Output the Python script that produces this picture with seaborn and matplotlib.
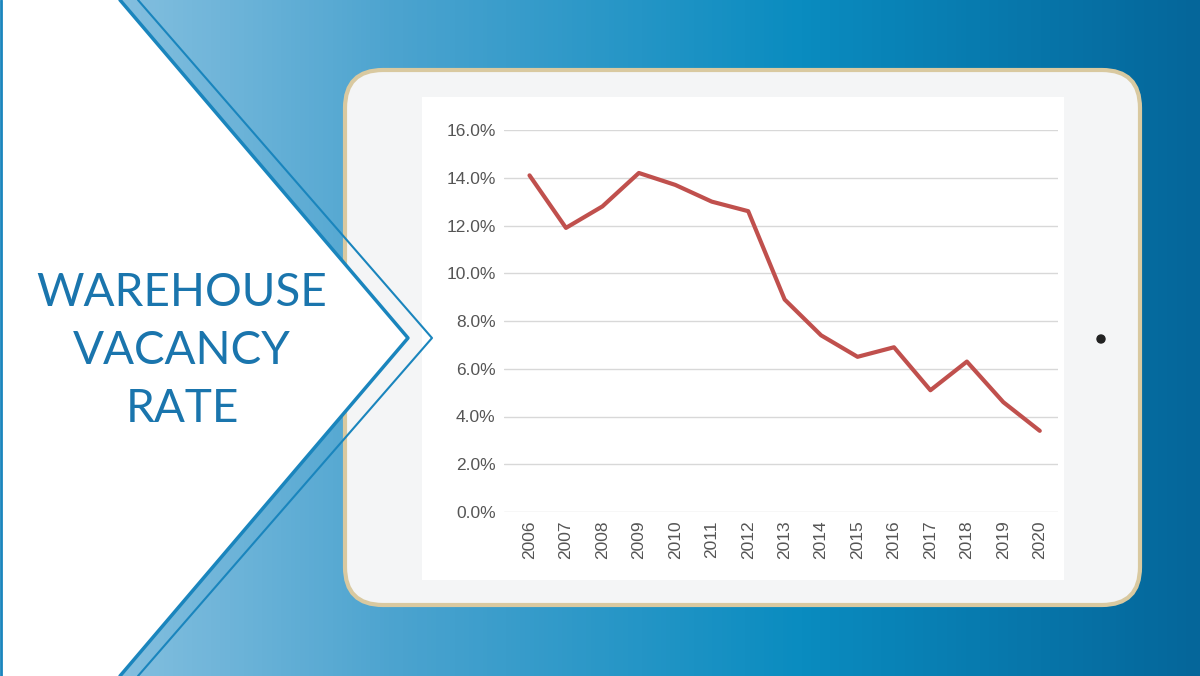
import numpy as np
import pandas as pd
import matplotlib
matplotlib.use("Agg")
import matplotlib.pyplot as plt
from matplotlib.patches import FancyBboxPatch, Polygon, Circle
from matplotlib.colors import LinearSegmentedColormap
import seaborn as sns

years = ["2006","2007","2008","2009","2010","2011","2012","2013","2014","2015","2016","2017","2018","2019","2020"]
vacancy = [14.1, 11.9, 12.8, 14.2, 13.7, 13.0, 12.6, 8.9, 7.4, 6.5, 6.9, 5.1, 6.3, 4.6, 3.4]
yticks = [0, 2, 4, 6, 8, 10, 12, 14, 16]
title_lines = ["WAREHOUSE", "VACANCY", "RATE"]

sns.set_theme(style="white")
plt.rcParams['font.family'] = ['Liberation Sans', 'DejaVu Sans']

W, H = 1200, 676
fig = plt.figure(figsize=(12, 6.76), dpi=100)

bg = fig.add_axes([0, 0, 1, 1])
bg.set_xlim(0, W); bg.set_ylim(H, 0); bg.axis("off")
grad = np.linspace(0, 1, 256)[None, :]
cmap = LinearSegmentedColormap.from_list("g", ["#9ccbe6", "#4ba3cf", "#0a8cc0", "#05669a"])
bg.imshow(grad, extent=[0, W, H, 0], aspect="auto", cmap=cmap, zorder=0)
# tablet
bg.add_patch(FancyBboxPatch((345, 70), 795, 535, boxstyle="round,pad=0,rounding_size=38",
                            facecolor="#f4f5f6", edgecolor="#d9c9a0", lw=3, zorder=4))
bg.add_patch(FancyBboxPatch((422, 97), 642, 483, boxstyle="square,pad=0",
                            facecolor="white", edgecolor="none", zorder=5))
bg.add_patch(Circle((1101, 339), 4, color="#222222", zorder=6))
# chevron over tablet
bg.add_patch(Polygon([[0, 0], [120, 0], [408, 338], [120, 676], [0, 676]], closed=True,
                     facecolor="white", edgecolor="none", zorder=7))
bg.plot([120, 408, 120], [0, 338, 676], color="#1a85bd", lw=2.5, zorder=8)
bg.plot([138, 432, 138], [0, 338, 676], color="#1a85bd", lw=1.5, zorder=8)
bg.plot([1, 1], [0, 676], color="#1a85bd", lw=2, zorder=8)
for i, t in enumerate(title_lines):
    bg.text(182, 293 + i * 58, t, ha="center", va="center", fontsize=33,
            color="#1a75ad", family=["Lato", "DejaVu Sans"], fontweight="normal", zorder=9)

ax = fig.add_axes([0.42, 1 - 512 / H, (1058 - 504) / W, (512 - 130) / H])
ax.set_facecolor("none")
df = pd.DataFrame({"year": years, "vacancy": vacancy})
sns.lineplot(data=df, x="year", y="vacancy", ax=ax, color="#c0504d", lw=3, sort=False)
ax.set_xlim(-0.7, 14.5)
ax.set_ylim(0, 16)
ax.set_yticks(yticks)
ax.set_yticklabels([f"{v:.1f}%" for v in yticks], fontsize=12.5, color="#555555")
ax.set_xticks(range(len(years)))
ax.set_xticklabels(years, rotation=90, fontsize=12.5, color="#555555")
ax.grid(axis="y", color="#d8d8d8", lw=1)
ax.set_axisbelow(True)
for s in ax.spines.values():
    s.set_visible(False)
ax.set_xlabel(""); ax.set_ylabel("")
ax.tick_params(axis="both", length=0, pad=6)

fig.savefig("out.png", dpi=100)
